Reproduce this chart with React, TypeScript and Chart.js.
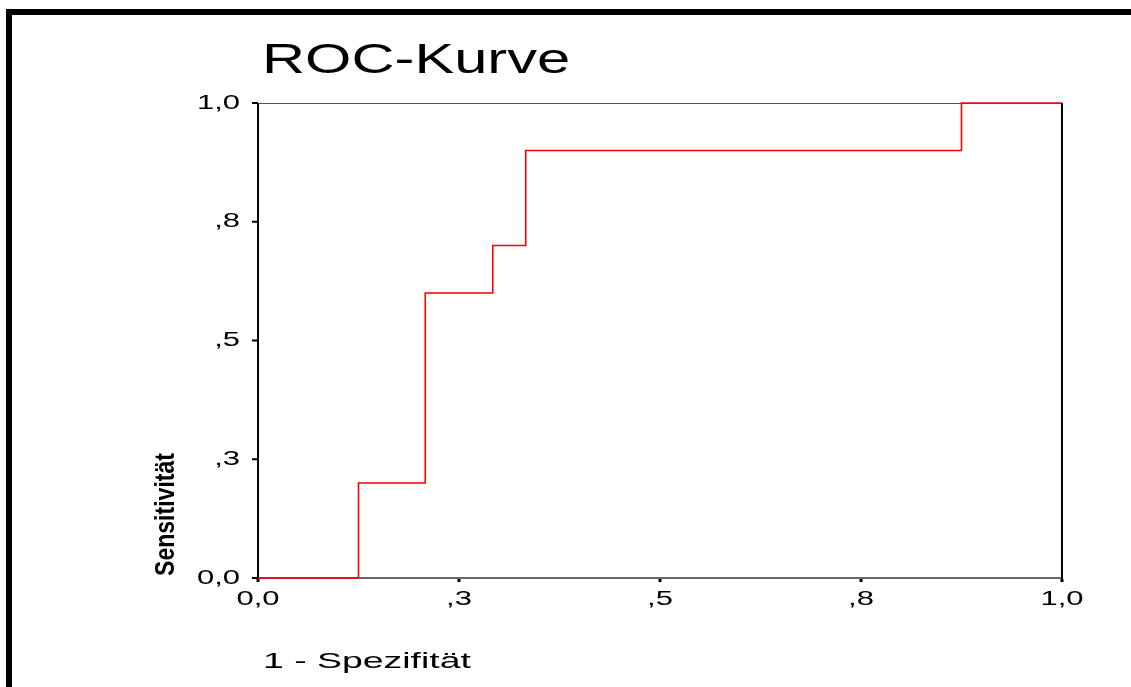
import React, { useEffect, useRef } from "react";
import { Chart, registerables } from "chart.js";

Chart.register(...registerables);

const chartTitle = "ROC-Kurve";
const xAxisTitle = "1 - Spezifität";
const yAxisTitle = "Sensitivität";

// ROC curve vertices (1 - specificity, sensitivity)
const fpr = [0, 0.125, 0.125, 0.208, 0.208, 0.292, 0.292, 0.333, 0.333, 0.875, 0.875, 1];
const tpr = [0, 0, 0.2, 0.2, 0.6, 0.6, 0.7, 0.7, 0.9, 0.9, 1, 1];

const tickValues = [0, 0.25, 0.5, 0.75, 1];
const xTickLabels = ["0,0", ",3", ",5", ",8", "1,0"];
const yTickLabels = ["0,0", ",3", ",5", ",8", "1,0"];

const FONT = "'Liberation Sans', Arial, Helvetica, sans-serif";

function stretchedText(
  ctx: CanvasRenderingContext2D,
  text: string,
  x: number,
  y: number,
  size: number,
  sx: number,
  align: CanvasTextAlign,
  baseline: CanvasTextBaseline
) {
  ctx.save();
  ctx.translate(x, y);
  ctx.scale(sx, 1);
  ctx.font = `${size}px ${FONT}`;
  ctx.textAlign = align;
  ctx.textBaseline = baseline;
  ctx.fillStyle = "#000";
  ctx.fillText(text, 0, 0);
  ctx.restore();
}

const decorPlugin = {
  id: "spssDecor",
  beforeDraw(chart: any) {
    const ctx: CanvasRenderingContext2D = chart.ctx;
    ctx.save();
    ctx.fillStyle = "#fff";
    ctx.fillRect(0, 0, chart.width, chart.height);
    // outer frame (top and left)
    ctx.fillStyle = "#000";
    ctx.fillRect(6, 9, chart.width - 6, 6);
    ctx.fillRect(6, 9, 6, chart.height - 9);
    ctx.restore();
  },
  beforeDatasetsDraw(chart: any) {
    const ctx: CanvasRenderingContext2D = chart.ctx;
    const { left, right, top, bottom } = chart.chartArea;
    const xs = chart.scales.x;
    const ys = chart.scales.y;
    ctx.save();
    ctx.strokeStyle = "#555";
    ctx.lineWidth = 1;
    ctx.beginPath();
    ctx.moveTo(left, top + 0.5);
    ctx.lineTo(right, top + 0.5);
    ctx.stroke();
    ctx.strokeStyle = "#333";
    ctx.lineWidth = 1.5;
    ctx.beginPath();
    ctx.moveTo(left, bottom);
    ctx.lineTo(right, bottom);
    ctx.stroke();
    ctx.strokeStyle = "#000";
    ctx.lineWidth = 2;
    ctx.beginPath();
    ctx.moveTo(left, top);
    ctx.lineTo(left, bottom + 1);
    ctx.moveTo(right, top);
    ctx.lineTo(right, bottom + 1);
    ctx.stroke();
    ctx.fillStyle = "#000";
    tickValues.forEach((v) => {
      const py = ys.getPixelForValue(v);
      ctx.fillRect(left - 6, py - 1, 6, 2);
      const px = xs.getPixelForValue(v);
      ctx.fillRect(px - 1.5, bottom + 1, 3, 3);
    });
    ctx.restore();
  },
  afterDraw(chart: any) {
    const ctx: CanvasRenderingContext2D = chart.ctx;
    const { left, bottom } = chart.chartArea;
    const xs = chart.scales.x;
    const ys = chart.scales.y;
    stretchedText(ctx, chartTitle, 262, 73, 42, 1.42, "left", "alphabetic");
    tickValues.forEach((v, i) => {
      stretchedText(ctx, yTickLabels[i], left - 18, ys.getPixelForValue(v), 20, 1.55, "right", "middle");
      stretchedText(ctx, xTickLabels[i], xs.getPixelForValue(v), bottom + 21, 20, 1.55, "center", "middle");
    });
    stretchedText(ctx, xAxisTitle, 263, 668, 22, 1.7, "left", "alphabetic");
    ctx.save();
    ctx.translate(174, 576);
    ctx.rotate(-Math.PI / 2);
    ctx.font = `bold 27px ${FONT}`;
    ctx.textAlign = "left";
    ctx.textBaseline = "alphabetic";
    ctx.fillStyle = "#000";
    ctx.fillText(yAxisTitle, 0, 0, 123);
    ctx.restore();
  },
};

export default function App() {
  const ref = useRef<HTMLCanvasElement | null>(null);
  useEffect(() => {
    if (!ref.current) return;
    const points = fpr.map((x, i) => ({ x, y: tpr[i] }));
    const chart = new Chart(ref.current, {
      type: "scatter",
      data: {
        datasets: [
          {
            label: "ROC",
            data: points,
            showLine: true,
            borderColor: "#ff0000",
            backgroundColor: "#ff0000",
            borderWidth: 1.6,
            pointRadius: 0,
            fill: false,
            clip: false as any,
          },
        ],
      },
      options: {
        responsive: false,
        animation: false,
        devicePixelRatio: 1,
        layout: { padding: { left: 258, top: 103, right: 1131 - 1062, bottom: 687 - 578 } },
        plugins: { legend: { display: false }, tooltip: { enabled: false }, title: { display: false } },
        scales: {
          x: { type: "linear", display: false, min: 0, max: 1 },
          y: { type: "linear", display: false, min: 0, max: 1 },
        },
      },
      plugins: [decorPlugin],
    });
    return () => chart.destroy();
  }, []);
  return (
    <div style={{ position: "fixed", left: 0, top: 0, width: 1131, height: 687, background: "#fff" }}>
      <canvas ref={ref} width={1131} height={687} style={{ display: "block" }} />
    </div>
  );
}
